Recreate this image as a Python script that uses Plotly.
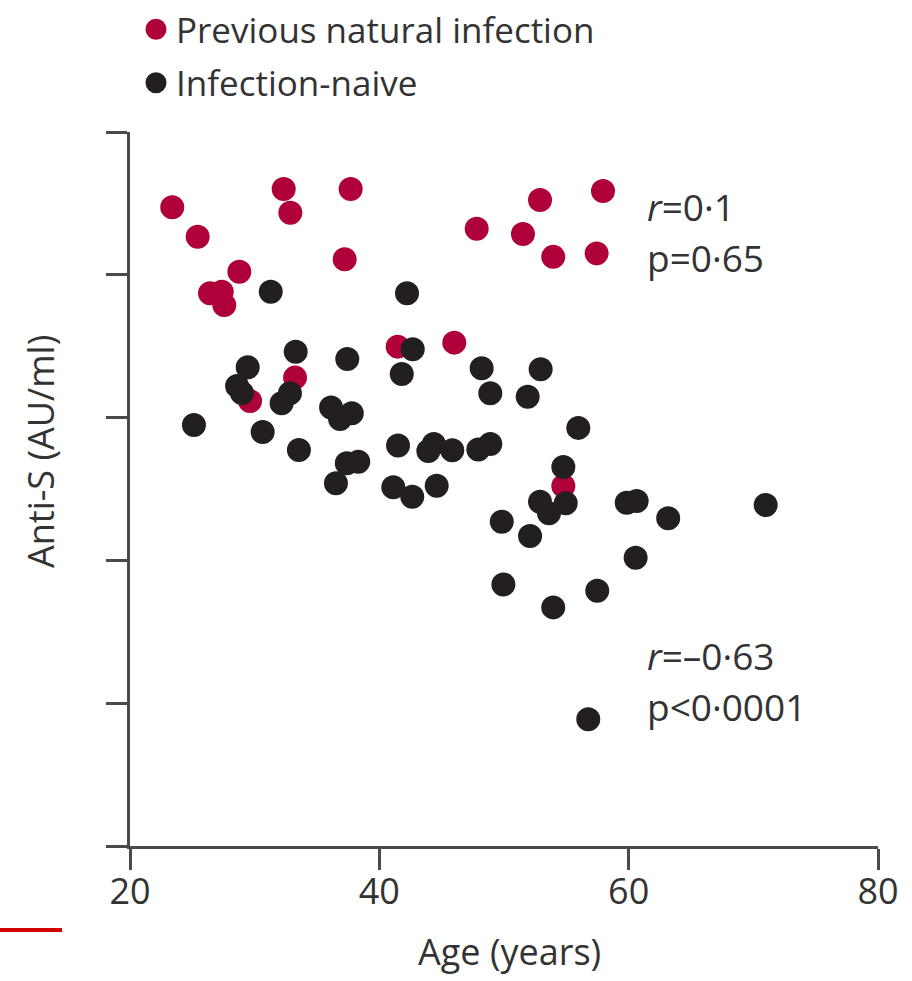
import plotly.graph_objects as go

# Previous natural infection (age, anti-S on axis units)
prev_age = [23.39, 25.43, 32.33, 32.86, 37.70, 37.22, 28.77, 26.42, 27.36, 27.56,
            41.47, 46.01, 33.24, 29.63, 47.81, 51.52, 52.89, 57.94, 53.95, 57.43, 54.76]
prev_antis = [4.473, 4.267, 4.601, 4.435, 4.601, 4.109, 4.022, 3.870, 3.882, 3.789,
              3.497, 3.525, 3.280, 3.116, 4.323, 4.286, 4.524, 4.587, 4.127, 4.150, 2.521]

# Infection-naive
naive_age = [31.29, 42.22, 33.29, 37.43, 42.68, 41.80, 29.44, 28.59, 28.98, 48.21,
             48.90, 32.83, 32.16, 36.13, 36.85, 37.79, 25.13, 30.64, 33.55, 41.50,
             44.37, 43.93, 45.85, 47.94, 48.90, 37.39, 38.31, 36.52, 41.12, 42.64,
             44.60, 52.94, 51.90, 55.96, 54.76, 52.89, 54.95, 53.61, 59.84, 60.64,
             70.99, 63.17, 49.82, 52.09, 60.56, 49.95, 57.48, 53.95, 56.76]
naive_antis = [3.882, 3.871, 3.461, 3.410, 3.478, 3.305, 3.352, 3.221, 3.172, 3.345,
               3.170, 3.170, 3.100, 3.071, 2.990, 3.030, 2.948, 2.899, 2.773, 2.805,
               2.815, 2.766, 2.771, 2.777, 2.815, 2.680, 2.691, 2.540, 2.512, 2.446,
               2.522, 3.338, 3.146, 2.928, 2.654, 2.411, 2.400, 2.330, 2.404, 2.416,
               2.388, 2.295, 2.271, 2.171, 2.019, 1.832, 1.788, 1.671, 0.887]

x_ticks = [20, 40, 60, 80]
y_ticks = [0, 1, 2, 3, 4, 5]

FONT = "Open Sans"
TXT = "#333333"
AX = "#4a4a4a"
RED = "#B0003A"
BLK = "#231F20"

fig = go.Figure()
fig.add_trace(go.Scatter(x=prev_age, y=prev_antis, mode="markers",
                         name="Previous natural infection", legendgroup="a",
                         marker=dict(color=RED, size=19, line=dict(width=5, color=RED))))
fig.add_trace(go.Scatter(x=naive_age, y=naive_antis, mode="markers",
                         name="Infection-naive", legendgroup="b",
                         marker=dict(color=BLK, size=19, line=dict(width=5, color=BLK))))

fig.update_layout(
    width=912, height=981,
    margin=dict(l=130, r=34, t=132, b=135, autoexpand=False),
    paper_bgcolor="white", plot_bgcolor="white",
    font=dict(family=FONT, color=TXT, size=36),
    legend=dict(x=136/912, xref="container", xanchor="left",
                y=1.015, yref="container", yanchor="top",
                font=dict(size=35, family=FONT, color=TXT),
                traceorder="grouped", tracegroupgap=5,
                bgcolor="rgba(0,0,0,0)", itemsizing="trace"),
    showlegend=True,
)
fig.update_xaxes(range=[20, 80], tickvals=x_ticks, showline=True, linecolor=AX, linewidth=3,
                 ticks="outside", ticklen=21, tickwidth=3, tickcolor=AX,
                 showgrid=False, zeroline=False, tickfont=dict(size=36, color=TXT),
                 ticklabelstandoff=-9)
fig.update_yaxes(range=[0, 5], tickvals=y_ticks, showline=True, linecolor=AX, linewidth=3,
                 ticks="outside", ticklen=21, tickwidth=3, tickcolor=AX,
                 showgrid=False, zeroline=False, showticklabels=False)

fig.add_annotation(text="Age (years)", xref="paper", yref="paper", x=(509 - 130) / 748,
                   y=(846 - 952) / 714,
                   xanchor="center", yanchor="middle", showarrow=False,
                   font=dict(size=36, color=TXT))
fig.add_annotation(text="Anti-S (AU/ml)", xref="paper", yref="paper",
                   x=(40 - 130) / 748, y=(846 - 452) / 714, textangle=-90,
                   xanchor="center", yanchor="middle", showarrow=False,
                   font=dict(size=36, color=TXT))

stats = [("<i>r</i>=0·1", 4.475), ("p=0·65", 4.118), ("<i>r</i>=–0·63", 1.331), ("p<0·0001", 0.980)]
for t, yy in stats:
    fig.add_annotation(text=t, x=61.3, y=yy, xanchor="left", yanchor="middle",
                       showarrow=False, font=dict(size=37, color=TXT))

fig.add_shape(type="line", xref="paper", yref="paper", x0=-130/748, x1=(62-130)/748,
              y0=(846-930)/714, y1=(846-930)/714, line=dict(color="#D40000", width=4))

fig.write_html("out.html")
